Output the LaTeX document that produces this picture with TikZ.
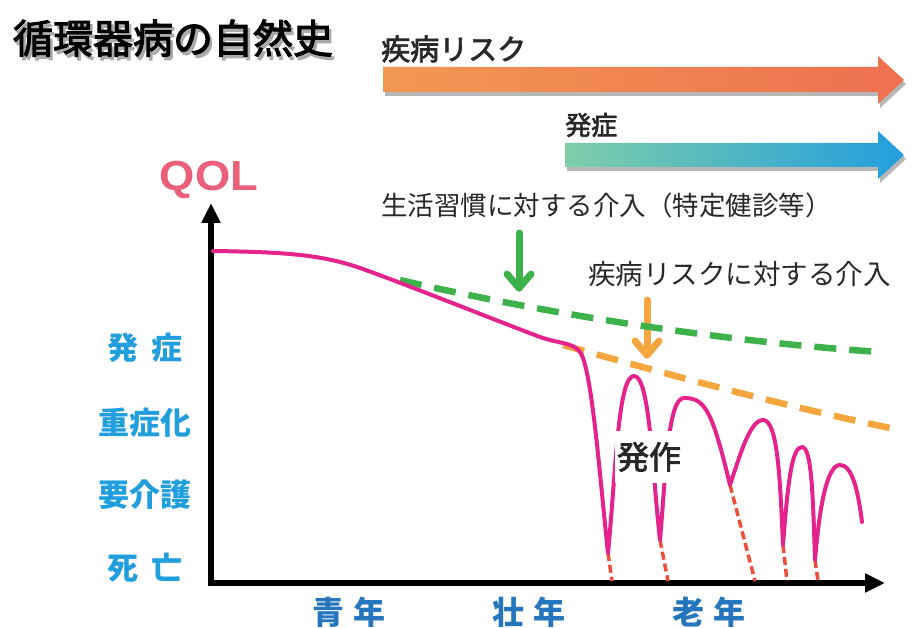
\documentclass[tikz,border=0pt]{standalone}
\usepackage{fontspec}
\newfontfamily\jp{Noto Sans CJK JP}
\newfontfamily\jpm[FakeBold=2.5]{Noto Sans CJK JP}
\newfontfamily\qolfont{Liberation Sans}
\usetikzlibrary{arrows.meta,shadows}
\definecolor{qpink}{RGB}{228,36,140}
\definecolor{qolred}{RGB}{234,96,122}
\definecolor{igreen}{RGB}{62,178,74}
\definecolor{iorange}{RGB}{246,166,62}
\definecolor{dred}{RGB}{236,78,58}
\definecolor{ylabblue}{RGB}{32,158,222}
\definecolor{xlabblue}{RGB}{38,118,190}
\definecolor{arrOrL}{RGB}{242,152,82}
\definecolor{arrOrR}{RGB}{238,112,80}
\definecolor{arrTeL}{RGB}{126,206,168}
\definecolor{arrTeR}{RGB}{34,158,222}
\definecolor{txtgray}{RGB}{40,40,40}
\definecolor{shadowgray}{RGB}{170,170,170}
\newcommand{\fsz}[1]{\fontsize{#1}{#1}\selectfont}
\newcommand{\shadowed}[1]{\rlap{\raisebox{-3.5pt}[0pt][0pt]{\hspace{2.5pt}\textcolor{shadowgray}{#1}}}#1}
\begin{document}
\begin{tikzpicture}[x=1pt,y=-1pt,
  pinkline/.style={draw=qpink, line width=4pt, line cap=round, line join=round},
  greendash/.style={draw=igreen, line width=6.5pt, dash pattern=on 22pt off 13pt},
  orangedash/.style={draw=iorange, line width=6.5pt, dash pattern=on 22pt off 13pt},
  reddash/.style={draw=dred, line width=3.5pt, dash pattern=on 8pt off 4pt},
  downarrow/.style={line width=7pt, line cap=round, line join=round},
  bigshadow/.style={drop shadow={opacity=0.4, shadow xshift=2pt, shadow yshift=-4pt, fill=black!70}},
  ylab/.style={font=\jp\bfseries\fsz{31}, text=ylabblue, inner sep=0pt},
  xlab/.style={font=\jp\bfseries\fsz{32}, text=xlabblue, inner sep=0pt},
  toplab/.style={font=\jpm\fsz{29}, text=txtgray, inner sep=0pt, anchor=west},
  intlab/.style={font=\jp\fsz{26.5}, text=txtgray, inner sep=0pt, anchor=west},
  axis/.style={line width=6pt, line join=miter}
]
\useasboundingbox (0,0) rectangle (915,628);

% title with soft shadow
\node[font=\jpm\fsz{40}, text=black, inner sep=0pt] (title) at (173,38) {\shadowed{循環器病の自然史}};

% big arrows
\path[left color=arrOrL, right color=arrOrR, bigshadow]
  (383,67) -- (878,67) -- (878,56) -- (904,80) -- (878,104) -- (878,92) -- (383,92) -- cycle;
\node[toplab] (riskLabel) at (381,49) {疾病リスク};

\path[left color=arrTeL, right color=arrTeR, bigshadow]
  (565,143) -- (878,143) -- (878,131) -- (904,155) -- (878,179) -- (878,167) -- (565,167) -- cycle;
\node[toplab, font=\jpm\fsz{26}] (onsetLabel) at (565,125) {発症};

% QOL
\node[font=\qolfont\bfseries\fsz{42}, text=qolred, inner sep=0pt, xscale=1.08] (qol) at (209,180) {QOL};

% intervention labels and arrows
\node[intlab] (interv1) at (381,205) {生活習慣に対する介入（特定健診等）};
\node[intlab, font=\jp\fsz{27.5}] (interv2) at (588,274) {疾病リスクに対する介入};

\coordinate (gTop) at (519,233);
\coordinate (gTip) at (519,288);
\draw[downarrow, draw=igreen] (gTop) -- (gTip);
\draw[downarrow, draw=igreen] (507,274) -- (gTip) -- (531,274);

\coordinate (oTop) at (647,300);
\coordinate (oTip) at (647,355);
\draw[downarrow, draw=iorange] (oTop) -- (oTip);
\draw[downarrow, draw=iorange] (635,341) -- (oTip) -- (659,341);

% axes
\coordinate (O) at (211,583);
\coordinate (yEnd) at (211,203);
\coordinate (xEnd) at (885,583);
\draw[axis, {Triangle[length=20pt,width=18pt]}-{Triangle[length=20pt,width=18pt]}] (yEnd) -- (O) -- (xEnd);

% y labels
\node[ylab] (y1) at (145,348) {発\hspace{0.4em}症};
\node[ylab] (y2) at (145,423) {重症化};
\node[ylab] (y3) at (145,495) {要介護};
\node[ylab] (y4) at (145,568) {死\hspace{0.4em}亡};

% x labels
\node[xlab] (x1) at (349,612) {青\hspace{0.3em}年};
\node[xlab] (x2) at (529,612) {壮\hspace{0.3em}年};
\node[xlab] (x3) at (709,612) {老\hspace{0.3em}年};

% dashed prospect lines
\draw[greendash] (400,280) .. controls (520,308) and (700,340) .. (880,352);
\draw[orangedash] (563,345) .. controls (680,378) and (800,410) .. (900,430);

% red dashed drops
\coordinate (b1) at (608,553);
\coordinate (b2) at (660,540);
\coordinate (b3) at (730,485);
\coordinate (b4) at (783,545);
\coordinate (b5) at (815,560);
\draw[reddash] (b1) -- (612,581);
\draw[reddash] (b2) -- (668,581);
\draw[reddash] (b3) -- (755,581);
\draw[reddash] (b4) -- (787,581);
\draw[reddash] (b5) -- (818,581);

% QOL curve
\draw[pinkline] (213,251) .. controls (280,252) and (320,254) .. (360,268)
  .. controls (400,282) and (500,322) .. (540,337)
  .. controls (560,344) and (572,342) .. (580,352)
  .. controls (592,368) and (600,480) .. (b1)
  .. controls (616,470) and (618,376) .. (634,376)
  .. controls (650,376) and (652,470) .. (b2)
  .. controls (666,470) and (668,398) .. (684,398)
  .. controls (705,398) and (712,410) .. (b3)
  .. controls (740,455) and (750,420) .. (763,420)
  .. controls (778,420) and (780,480) .. (b4)
  .. controls (788,480) and (792,447) .. (802,447)
  .. controls (812,447) and (813,500) .. (b5)
  .. controls (820,500) and (828,465) .. (840,465)
  .. controls (852,465) and (858,490) .. (862,522);

% attack label
\node[font=\jpm\fsz{32}, text=txtgray, fill=white, inner xsep=2pt, inner ysep=11pt] (attack) at (649,457) {発作};
\end{tikzpicture}
\end{document}
